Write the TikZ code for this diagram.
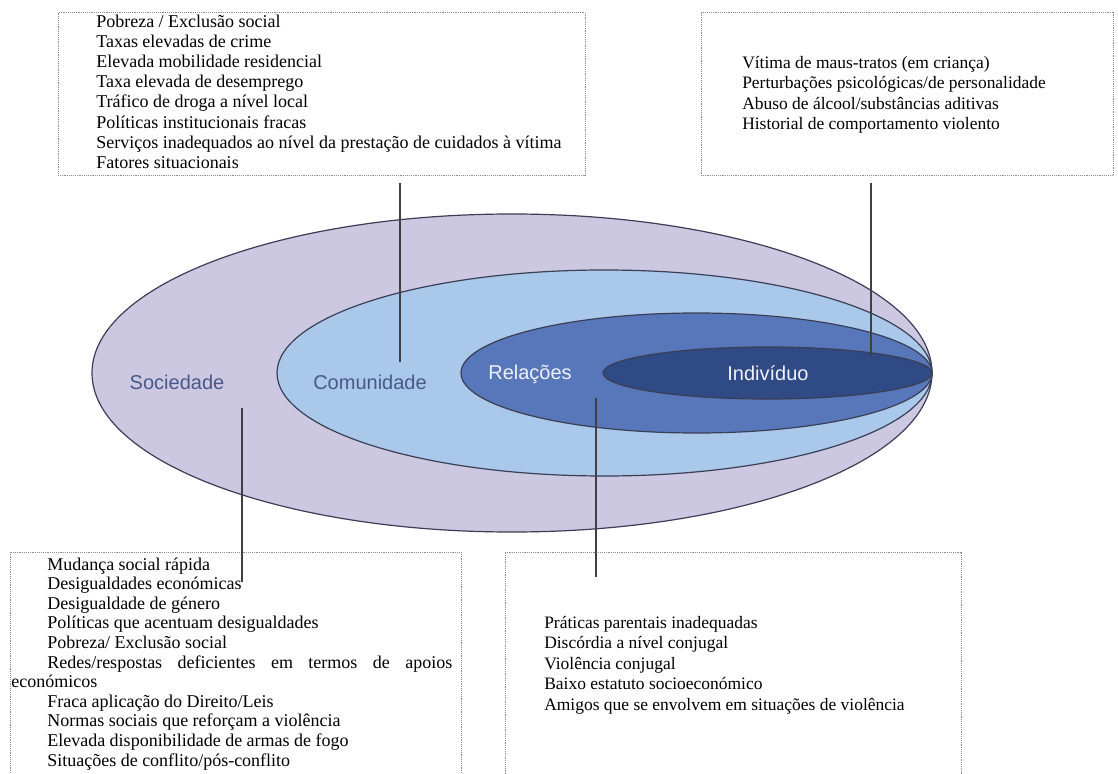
\documentclass[tikz,border=0pt]{standalone}
\usepackage{fontspec}
\setmainfont{Liberation Serif}
\setsansfont{Liberation Sans}
\usetikzlibrary{shapes.geometric,fit}
\definecolor{socC}{HTML}{CCC8E2}
\definecolor{comC}{HTML}{A9C8EA}
\definecolor{relC}{HTML}{5877BA}
\definecolor{indC}{HTML}{2F4A85}
\definecolor{lblDark}{HTML}{4A5889}
\definecolor{lblLight}{HTML}{EEF1F8}
\definecolor{rimC}{HTML}{3A3F55}
\begin{document}
\begin{tikzpicture}[x=0.75pt,y=-0.75pt,
  layer/.style={ellipse,draw=rimC,line width=0.9pt,inner sep=0pt},
  lbl/.style={font=\sffamily\fontsize{15}{18}\selectfont,inner sep=0pt},
  infobox/.style={draw=black!45,line width=0.7pt,dash pattern=on 0.7pt off 0.7pt,inner sep=0pt},
  item/.style={anchor=base west,inner sep=0pt,font=\fontsize{13.5}{15}\selectfont},
  itemr/.style={anchor=base west,inner sep=0pt,font=\fontsize{13.1}{15}\selectfont},
  conn/.style={draw=black!75,line width=1.1pt}]
\clip (0,0) rectangle (1118,774);
\useasboundingbox (0,0) rectangle (1118,774);
\fill[white] (0,0) rectangle (1118,774);

% nested ellipses
\node[layer,fill=socC,minimum width=630pt,minimum height=238.5pt] (soc) at (512,373) {};
\node[layer,fill=comC,minimum width=491.25pt,minimum height=154.5pt] (com) at (604.5,373) {};
\node[layer,fill=relC,minimum width=353.25pt,minimum height=90pt] (rel) at (696.5,373) {};
\node[layer,fill=indC,minimum width=246.75pt,minimum height=39pt] (ind) at (767.5,373) {};

\node[lbl,text=lblDark] (socL) at (177,382) {Sociedade};
\node[lbl,text=lblDark] (comL) at (370,382) {Comunidade};
\node[lbl,text=lblLight] (relL) at (530,374) {Relações};
\node[lbl,text=lblLight] (indL) at (768,373) {Indivíduo};

% boxes
\node[infobox,fit={(58,12.5) (585,175.5)}] (tlbox) {};
\node[infobox,fit={(701,12.5) (1113,175.5)}] (trbox) {};
\node[infobox,fit={(10,552) (461,800)}] (blbox) {};
\node[infobox,fit={(505,552) (961,800)}] (brbox) {};

% texts
\foreach \t [count=\i from 0] in {Pobreza / Exclusão social,Taxas elevadas de crime,Elevada mobilidade residencial,Taxa elevada de desemprego,Tráfico de droga a nível local,Políticas institucionais fracas,Serviços inadequados ao nível da prestação de cuidados à vítima,Fatores situacionais}
  \node[item] (tl\i) at (96,28+20*\i) {\t};

\foreach \t [count=\i from 0] in {Vítima de maus-tratos (em criança),Perturbações psicológicas/de personalidade,Abuso de álcool/substâncias aditivas,Historial de comportamento violento}
  \node[itemr] (tr\i) at (742,69+20*\i) {\t};

\foreach \t [count=\i from 0] in {Mudança social rápida,Desigualdades económicas,Desigualdade de género,Políticas que acentuam desigualdades,Pobreza/ Exclusão social}
  \node[item] (bl\i) at (47,570+19.6*\i) {\t};
\node[item] (bl5) at (47,570+19.6*5) {\makebox[303.75pt][s]{Redes/respostas deficientes em termos de apoios}};
\node[item] (bl6) at (11,570+19.6*6) {económicos};
\foreach \t [count=\i from 7] in {Fraca aplicação do Direito/Leis,Normas sociais que reforçam a violência,Elevada disponibilidade de armas de fogo,Situações de conflito/pós-conflito}
  \node[item] (bl\i) at (47,570+19.6*\i) {\t};

\foreach \t [count=\i from 0] in {Práticas parentais inadequadas,Discórdia a nível conjugal,Violência conjugal,Baixo estatuto socioeconómico,Amigos que se envolvem em situações de violência}
  \node[itemr] (br\i) at (544,628+20.5*\i) {\t};

% connectors
\coordinate (c1a) at (400,183);
\coordinate (c1b) at (400,362);
\coordinate (c2a) at (871,183);
\coordinate (c2b) at (871,357);
\coordinate (c3a) at (242,408);
\coordinate (c3b) at (242,582);
\coordinate (c4a) at (596,398);
\coordinate (c4b) at (596,577);
\draw[conn] (c1a) -- (c1b);
\draw[conn] (c2a) -- (c2b);
\draw[conn] (c3a) -- (c3b);
\draw[conn] (c4a) -- (c4b);
\end{tikzpicture}
\end{document}
